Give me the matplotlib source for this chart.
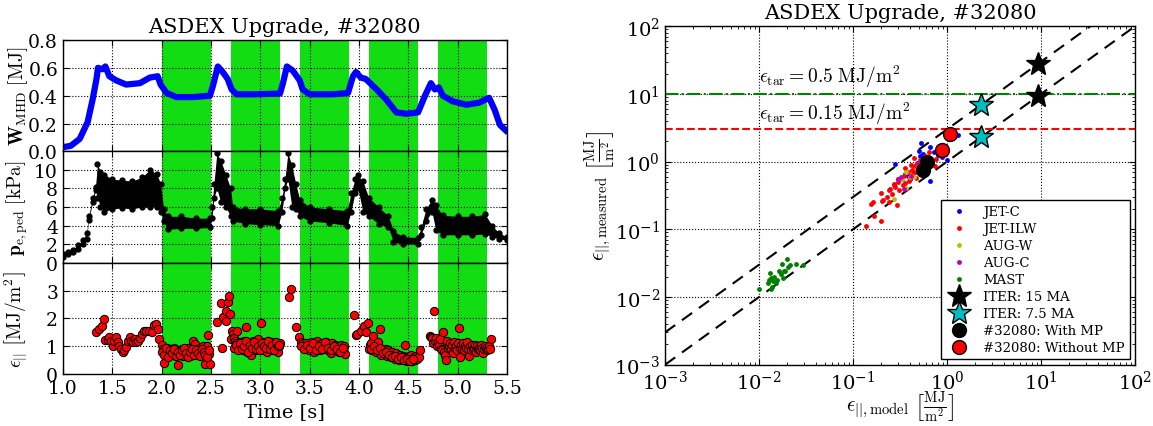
import numpy as np
import matplotlib
matplotlib.use("Agg")
from matplotlib import pyplot as plt

plt.rcParams.update({
    'font.family': 'DejaVu Serif',
    'mathtext.fontset': 'cm',
    'xtick.direction': 'in', 'ytick.direction': 'in',
    'xtick.top': True, 'ytick.right': True,
    'xtick.major.size': 4, 'ytick.major.size': 4,
    'xtick.minor.size': 2, 'ytick.minor.size': 2,
    'grid.linestyle': ':', 'grid.color': 'k', 'grid.linewidth': 0.8,
    'axes.linewidth': 1.0,
})

#=== left panel data =====================================================
mp_windows = [(2.0, 2.5), (2.7, 3.2), (3.4, 3.9), (4.1, 4.6), (4.8, 5.3)]

t_w = [1.00, 1.08, 1.17, 1.25, 1.30, 1.34, 1.355, 1.40, 1.43, 1.47, 1.54, 1.64, 1.78,
       1.88, 1.96, 1.99, 2.05, 2.15, 2.32, 2.49, 2.52, 2.57, 2.62, 2.67, 2.71, 2.76,
       2.93, 3.20, 3.23, 3.27, 3.33, 3.40, 3.43, 3.50, 3.74, 3.89, 3.94, 3.97, 4.02,
       4.07, 4.18, 4.28, 4.38, 4.48, 4.60, 4.67, 4.73, 4.77, 4.81, 4.85, 4.95, 5.09,
       5.22, 5.32, 5.375, 5.43, 5.49]
w_mhd = [0.03, 0.04, 0.09, 0.21, 0.37, 0.52, 0.60, 0.59, 0.61, 0.54, 0.51, 0.48, 0.49,
         0.53, 0.54, 0.48, 0.42, 0.39, 0.39, 0.40, 0.47, 0.61, 0.57, 0.52, 0.445, 0.41,
         0.41, 0.415, 0.49, 0.61, 0.58, 0.51, 0.445, 0.41, 0.41, 0.42, 0.54, 0.57, 0.53,
         0.52, 0.445, 0.37, 0.28, 0.27, 0.28, 0.40, 0.49, 0.445, 0.46, 0.40, 0.36, 0.335,
         0.35, 0.385, 0.30, 0.19, 0.15]

t_pe = [1.00, 1.05, 1.10, 1.15, 1.20, 1.24, 1.26, 1.30, 1.33, 1.35, 1.38, 1.42, 1.50,
        1.60, 1.70, 1.80, 1.88, 1.95, 1.99, 2.02, 2.06, 2.20, 2.35, 2.49, 2.51, 2.53,
        2.56, 2.60, 2.65, 2.70, 2.72, 2.85, 3.00, 3.18, 3.22, 3.25, 3.28, 3.32, 3.36,
        3.40, 3.50, 3.70, 3.88, 3.92, 3.96, 3.99, 4.04, 4.10, 4.20, 4.30, 4.35, 4.45,
        4.60, 4.63, 4.68, 4.74, 4.78, 4.85, 5.00, 5.15, 5.28, 5.35, 5.42, 5.50]
pe_lo = [0.6, 0.9, 1.1, 1.5, 2.0, 2.6, 4.6, 6.5, 7.8, 7.0, 6.0, 5.5, 5.8,
         5.9, 5.8, 6.0, 6.0, 6.0, 5.5, 4.5, 3.6, 3.7, 3.7, 3.8, 4.8, 7.0,
         8.0, 6.5, 6.0, 5.0, 4.5, 4.2, 4.1, 4.0, 5.5, 8.0, 9.0, 6.0, 5.8,
         5.0, 4.5, 4.3, 4.0, 5.5, 7.5, 8.0, 5.5, 5.0, 4.2, 3.8, 2.2, 2.0,
         2.0, 3.0, 4.5, 5.5, 3.5, 3.0, 3.0, 3.0, 3.1, 2.8, 2.6, 2.4]
pe_hi = [0.9, 1.2, 1.4, 1.9, 2.4, 3.2, 5.0, 7.0, 8.2, 10.6, 9.8, 9.5, 9.0,
         8.9, 8.8, 9.2, 10.0, 9.6, 8.5, 5.8, 5.0, 5.0, 4.8, 4.8, 6.0, 8.5,
         11.8, 11.0, 9.5, 8.0, 6.0, 5.8, 5.8, 5.6, 7.0, 9.0, 11.8, 10.5, 8.5,
         6.8, 6.0, 5.8, 5.6, 7.5, 9.0, 9.4, 8.8, 7.0, 6.0, 5.0, 3.4, 2.8,
         2.7, 3.8, 5.8, 6.8, 6.2, 5.1, 5.0, 5.0, 5.2, 4.0, 3.2, 2.8]

eps_a = [(1.34, 1.52), (1.37, 1.62), (1.40, 1.71), (1.415, 1.98), (1.43, 1.23), (1.46, 1.23),
         (1.47, 1.32), (1.49, 1.17), (1.51, 1.02), (1.52, 1.17), (1.54, 1.32), (1.56, 1.14),
         (1.57, 1.00), (1.59, 0.90), (1.61, 0.79), (1.62, 0.88), (1.64, 0.98), (1.66, 1.17),
         (1.68, 1.32), (1.69, 1.20), (1.71, 1.14), (1.73, 1.24), (1.74, 1.14), (1.76, 1.17),
         (1.78, 1.29), (1.80, 1.44), (1.82, 1.56), (1.84, 1.54), (1.87, 1.56), (1.90, 1.52),
         (1.92, 1.76), (1.94, 1.80), (1.96, 1.62), (1.97, 1.26)]
eps_spikes = [(2.56, 1.86), (2.60, 2.55), (2.61, 0.94), (2.62, 2.04), (2.65, 2.27), (2.655, 1.92),
              (2.67, 2.57), (2.68, 2.79), (2.69, 2.15), (2.71, 1.56), (2.72, 1.44), (2.70, 1.25),
              (3.29, 2.75), (3.31, 3.07), (3.36, 1.68), (3.39, 1.32),
              (3.95, 2.13), (3.97, 1.40), (3.98, 1.45), (4.02, 1.56), (4.05, 1.71), (4.07, 1.52),
              (4.09, 1.83), (4.10, 0.90), (4.11, 1.05)]
# (start time, step, values) for the dense stretches
eps_runs = [
    (2.00, 0.01, [1.05, 0.90, 0.40, 0.85, 0.75, 0.95, 0.70, 0.80, 0.65, 0.90,
                  0.75, 0.85, 0.70, 0.95, 0.80, 0.65, 0.75, 0.31, 0.85, 0.70,
                  0.80, 0.90, 0.65, 0.75, 0.85, 0.70, 0.80, 0.95, 0.75, 0.65,
                  0.80, 0.70, 1.17, 0.85, 1.08, 0.75, 0.90, 0.80, 0.70, 0.95,
                  0.85, 0.75, 1.00, 0.90, 0.37, 0.65, 1.02, 1.40, 0.73, 0.37]),
    (2.005, 0.02, [0.80, 0.70, 0.95, 0.60, 0.85, 0.75, 0.90, 0.65, 0.80, 0.70, 0.85, 0.95,
                   0.75, 0.60, 0.80, 0.90, 0.70, 0.85, 0.75, 0.65, 0.90, 0.80, 0.70, 0.60, 0.85]),
    (2.73, 0.01, [1.30, 1.20, 1.10, 1.56, 1.05, 0.95, 1.15, 0.90, 1.00, 1.10,
                  0.85, 1.20, 0.95, 1.68, 0.80, 1.05, 0.90, 1.10, 0.70, 1.00,
                  1.20, 0.95, 0.85, 1.10, 1.00, 1.25, 0.90, 1.05, 1.83, 0.95,
                  1.15, 0.85, 1.00, 1.10, 0.80, 1.20, 0.95, 1.05, 0.90, 1.15,
                  1.00, 0.85, 1.10, 0.95, 1.05, 0.80, 1.00, 1.10]),
    (2.735, 0.02, [0.95, 1.05, 0.85, 1.10, 0.90, 1.00, 1.20, 0.80, 1.05, 0.95, 1.15, 0.90,
                   1.00, 0.85, 1.10, 1.00, 0.95, 1.20, 0.90, 1.05, 0.85, 1.15, 1.00, 1.05]),
    (3.41, 0.01, [1.15, 1.05, 1.10, 0.95, 1.00, 1.10, 0.90, 1.05, 0.85, 1.00,
                  1.15, 0.95, 1.05, 0.80, 1.00, 1.10, 0.90, 1.20, 0.95, 1.05,
                  0.85, 1.00, 1.10, 0.90, 1.05, 0.95, 1.15, 1.00, 0.85, 1.05,
                  0.95, 0.75, 1.10, 0.90, 1.00, 1.05, 0.85, 0.95, 1.00, 0.80,
                  0.90, 1.05, 0.85, 0.95, 1.00, 0.73]),
    (3.415, 0.03, [1.00, 0.90, 1.05, 0.95, 1.10, 0.85, 1.00, 0.90, 1.15, 0.95, 0.85, 1.00,
                   0.90, 0.80, 0.95]),
    (4.12, 0.01, [1.10, 0.85, 1.35, 0.95, 1.00, 0.80, 0.90, 1.15, 0.85, 1.60,
                  0.70, 0.90, 0.80, 0.85, 0.75, 0.90, 0.80, 0.65, 0.85, 0.70,
                  0.75, 0.60, 0.80, 0.65, 0.70, 0.55, 0.75, 0.60, 0.65, 0.50,
                  0.70, 0.60, 0.55, 0.65, 0.50, 1.05, 0.60, 0.45, 0.55, 0.65,
                  0.50, 0.70, 0.45, 0.55, 0.60, 0.50, 0.65, 0.55, 0.60, 0.62, 0.88]),
    (4.125, 0.03, [0.90, 1.00, 0.85, 0.95, 0.75, 0.80, 0.70, 0.60, 0.65, 0.55, 0.60, 0.50,
                   0.55, 0.45, 0.55]),
    (4.72, 0.01, [1.38, 1.32, 1.28, 1.10, 2.25, 1.20, 1.30, 1.00, 1.15, 1.05,
                  1.25, 0.90, 0.85, 1.50, 0.80, 0.70, 0.52, 1.20, 0.95, 1.00,
                  1.10, 0.90, 1.05, 0.75, 1.15, 0.95, 1.00, 0.85, 1.10, 1.65,
                  0.60, 0.95, 1.05, 0.90, 1.10, 0.85, 1.00, 0.95, 1.15, 0.90,
                  0.65, 1.00, 0.85, 1.05, 0.90, 0.95, 1.05, 0.80, 1.00, 0.90,
                  0.95, 0.85, 1.05, 0.95, 0.75, 0.90, 1.00, 0.95, 0.85, 0.90,
                  1.00, 0.90, 1.26]),
]

#=== right panel data ====================================================
jet_c_x = [1.31, 0.53, 0.66, 0.88, 1.0, 0.28, 0.66, 0.40, 0.33, 0.50, 0.56, 0.48, 0.60,
           0.45, 0.38, 0.72, 0.80, 0.36, 0.58, 0.52]
jet_c_y = [2.48, 1.89, 1.67, 1.16, 1.04, 0.93, 0.52, 0.55, 0.55, 1.46, 1.30, 0.79, 0.95,
           0.70, 0.62, 1.40, 1.25, 0.66, 1.10, 1.20]
jet_ilw_x = [0.137, 0.154, 0.169, 0.198, 0.205, 0.243, 0.292, 0.20, 0.21, 0.23, 0.25, 0.26,
             0.27, 0.28, 0.30, 0.31, 0.33, 0.35, 0.36, 0.38, 0.40, 0.42, 0.44, 0.46, 0.48,
             0.50, 0.52, 0.55, 0.58, 0.62, 0.65, 0.70, 0.75, 0.30, 0.34, 0.39, 0.43, 0.47,
             0.53, 0.60, 0.24, 0.27, 0.36, 0.41, 0.45, 0.163, 0.76]
jet_ilw_y = [0.111, 0.237, 0.156, 0.135, 0.265, 0.256, 0.232, 0.35, 0.27, 0.30, 0.40, 0.33,
             0.45, 0.42, 0.50, 0.38, 0.55, 0.62, 0.48, 0.70, 0.60, 0.75, 0.85, 0.70, 0.95,
             0.80, 1.05, 0.90, 1.20, 1.10, 1.40, 1.00, 0.85, 0.55, 0.45, 0.52, 0.65, 0.58,
             0.72, 0.68, 0.38, 0.47, 0.80, 0.90, 1.15, 0.25, 1.09]
aug_w_x = [0.363, 0.40, 0.445, 0.37, 0.27, 0.42, 0.33, 0.48]
aug_w_y = [0.70, 0.596, 0.59, 0.41, 0.28, 0.62, 0.55, 0.78]
aug_c_x = [0.49, 0.30, 0.35, 0.32, 0.41]
aug_c_y = [0.95, 0.55, 0.40, 0.60, 0.62]
mast_x = [0.0100, 0.0125, 0.0128, 0.0130, 0.0133, 0.0135, 0.0138, 0.0140, 0.0145, 0.0150,
          0.0155, 0.0165, 0.0170, 0.0175, 0.0180, 0.0185, 0.0190, 0.0197, 0.0205, 0.0215,
          0.0250, 0.0290]
mast_y = [0.013, 0.016, 0.018, 0.023, 0.013, 0.019, 0.014, 0.017, 0.020, 0.016,
          0.018, 0.024, 0.022, 0.031, 0.019, 0.024, 0.024, 0.036, 0.028, 0.030,
          0.031, 0.030]
iter15_x, iter15_y = [9.3, 9.3], [28.0, 9.3]
iter75_x, iter75_y = [2.3, 2.3], [6.9, 2.3]
mp_x, mp_y = [0.61, 0.55], [1.0, 0.75]
nomp_x, nomp_y = [1.07, 0.88], [2.6, 1.5]
scaling_factors = [3.0, 1.0]
eps_tar = [(10.0, 'g-.', r'$\epsilon_{\rm tar}=0.5\ \mathrm{MJ/m^2}$', 12.0),
           (3.0, 'r--', r'$\epsilon_{\rm tar}=0.15\ \mathrm{MJ/m^2}$', 3.4)]

#=======================================================================================

fig = plt.figure(figsize=(11.53, 4.27), dpi=100)
green = '#12dc12'
title = 'ASDEX Upgrade, #32080'

h = 0.2607
ax1 = fig.add_axes([0.0546, 0.1218 + 2*h, 0.385, h])
ax2 = fig.add_axes([0.0546, 0.1218 + h, 0.385, h])
ax3 = fig.add_axes([0.0546, 0.1218, 0.385, h])

for ax in (ax1, ax2, ax3):
    for t0, t1 in mp_windows:
        ax.axvspan(t0, t1, color=green, lw=0)
    ax.set_xlim(1.0, 5.5)
    ax.set_xticks(np.arange(1.0, 5.51, 0.5))
    ax.grid(True)
    ax.tick_params(labelsize=13.5)
    ax.yaxis.set_label_coords(-0.074, 0.5)

ax1.plot(t_w, w_mhd, color='b', lw=4.5)
ax1.set_ylim(0, 0.8)
ax1.set_yticks([0.0, 0.2, 0.4, 0.6, 0.8])
ax1.set_ylabel(r'$\mathbf{W}_{\rm MHD}\ [\mathrm{MJ}]$', fontsize=14)
ax1.set_title(title, fontsize=15)
ax1.tick_params(labelbottom=False)

ax2.fill_between(t_pe, pe_lo, pe_hi, color='k', lw=0)
ax2.plot(t_pe, pe_lo, 'ko', ms=3.5)
ax2.plot(t_pe, pe_hi, 'ko', ms=3.5)
ax2.set_ylim(0, 12)
ax2.set_yticks([0, 2, 4, 6, 8, 10])
ax2.set_ylabel(r'$\mathbf{p}_{\rm e,ped}\ [\mathrm{kPa}]$', fontsize=14)
ax2.tick_params(labelbottom=False)

eps_t = [p[0] for p in eps_a + eps_spikes]
eps_v = [p[1] for p in eps_a + eps_spikes]
for t0, dt, vals in eps_runs:
    eps_t += list(t0 + dt*np.arange(len(vals)))
    eps_v += vals
ax3.plot(eps_t, eps_v, 'o', color='r', mec='k', mew=0.7, ms=6)
ax3.set_ylim(0, 4)
ax3.set_yticks([0, 1, 2, 3])
ax3.set_ylabel(r'$\epsilon_{||}\ \left[\mathrm{MJ/m^2}\right]$', fontsize=14)
ax3.set_xlabel('Time [s]', fontsize=14)

# right panel
ax = fig.add_axes([0.5768, 0.1436, 0.4076, 0.7925])
ax.set_xscale('log')
ax.set_yscale('log')
xl = np.array([1e-3, 1e2])
for f in scaling_factors:
    ax.plot(xl, f*xl, 'k--', lw=1.5, dashes=(6, 4))
for lev, sty, txt, ty in eps_tar:
    ax.plot(xl, [lev, lev], sty, lw=1.5)
    ax.text(1e-2, ty, txt, fontsize=14, va='bottom', ha='left')

ax.plot(jet_c_x, jet_c_y, 'o', color='b', mec='none', ms=3.5, label='JET-C')
ax.plot(jet_ilw_x, jet_ilw_y, 'o', color='r', mec='none', ms=3.5, label='JET-ILW')
ax.plot(aug_w_x, aug_w_y, 'o', color=(0.75, 0.75, 0), mec='none', ms=3.5, label='AUG-W')
ax.plot(aug_c_x, aug_c_y, 'o', color=(0.75, 0, 0.75), mec='none', ms=3.5, label='AUG-C')
ax.plot(mast_x, mast_y, 'o', color=(0, 0.5, 0), mec='none', ms=3.5, label='MAST')
ax.plot(iter15_x, iter15_y, '*', color='k', mec='k', ms=18, label='ITER: 15 MA')
ax.plot(iter75_x, iter75_y, '*', color=(0, 0.75, 0.75), mec='k', ms=18, label='ITER: 7.5 MA')
ax.plot(mp_x, mp_y, 'o', color='k', mec='k', ms=10, label='#32080: With MP')
ax.plot(nomp_x, nomp_y, 'o', color='r', mec='k', ms=10, label='#32080: Without MP')

ax.set_xlim(1e-3, 1e2)
ax.set_ylim(1e-3, 1e2)
ax.grid(True, which='major')
ax.tick_params(labelsize=14)
ax.set_title(title, fontsize=15)
ax.set_xlabel(r'$\epsilon_{||,\mathrm{model}}\ \left[\frac{\mathrm{MJ}}{\mathrm{m}^2}\right]$', fontsize=15)
ax.set_ylabel(r'$\epsilon_{||,\mathrm{measured}}\ \left[\frac{\mathrm{MJ}}{\mathrm{m}^2}\right]$', fontsize=15)
ax.xaxis.set_label_coords(0.5, -0.075)
ax.yaxis.set_label_coords(-0.097, 0.5)
leg = ax.legend(loc='lower right', numpoints=1, fontsize=9.5, labelspacing=0.3,
                fancybox=False, framealpha=1, borderaxespad=0.4)
leg.get_frame().set_edgecolor('k')

plt.savefig('out.png')
